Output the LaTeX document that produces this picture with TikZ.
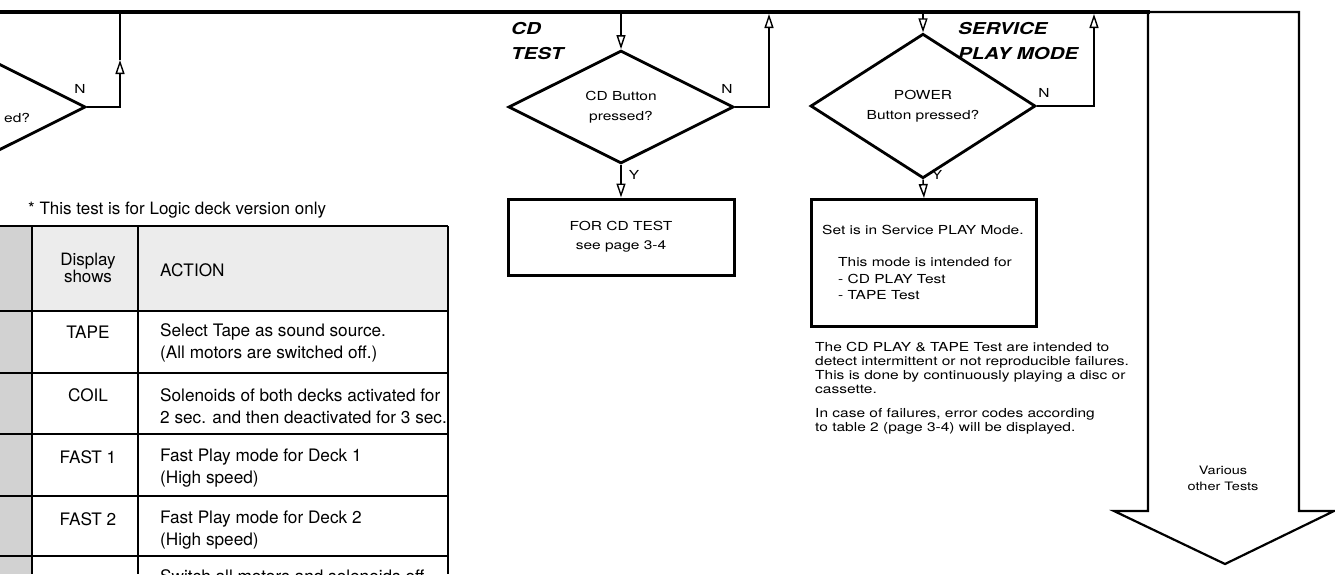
\documentclass[tikz,border=0pt]{standalone}
\usepackage{tikz}
\usetikzlibrary{arrows.meta,shapes.geometric}
\usepackage{fontspec}
\setmainfont{TeX Gyre Heros}
\newfontfamily\chartfont[FakeStretch=1.25]{TeX Gyre Heros}

\begin{document}
\begin{tikzpicture}[x=1pt,y=-1pt,
  bus/.style={line width=4.5pt},
  conn/.style={line width=1.5pt},
  flow/.style={conn, -{Triangle[open,length=14pt,width=9pt,line width=1.4pt]}},
  decision/.style={diamond, draw, line width=2.8pt, minimum width=225pt,
    minimum height=113pt, inner sep=0pt, align=center,
    font=\chartfont\fontsize{12.4}{20}\selectfont},
  chartbox/.style={draw, line width=3pt, inner sep=0pt, align=center,
    font=\chartfont\fontsize{12.4}{19}\selectfont},
  chart/.style={inner sep=0pt, font=\chartfont\fontsize{12.4}{15}\selectfont},
  title/.style={inner sep=0pt, anchor=west, align=left,
    font=\chartfont\bfseries\itshape\fontsize{16.4}{25}\selectfont},
  tabline/.style={line width=1.5pt},
  tabthick/.style={line width=2.2pt},
  tabtxt/.style={inner sep=0pt, align=center, font=\fontsize{17.2}{22}\selectfont},
  acttxt/.style={tabtxt, anchor=west, align=left}
  ]
  \useasboundingbox (0,0) rectangle (1335,574);

  % bus and the big arrow
  \draw[line width=2.2pt] (1148,12) -- (1299,12) -- (1299,511) -- (1334,511)
    -- (1225,564) -- (1114,511) -- (1148,511) -- cycle;
  \draw[bus] (0,12) -- (1150,12);
  \node[chart, align=center, font=\chartfont\fontsize{11.6}{16}\selectfont]
    (various) at (1223,478) {Various\\other Tests};

  % left decision, cut by the page edge
  \begin{scope}
    \clip (0,0) rectangle (1335,574);
    \node[decision] (ldec) at (-27,107) {};
    \node[acttxt] (act5) at (160,576) {Switch all motors and solenoids off};
  \end{scope}
  \node[chart, anchor=west] (ledtxt) at (4,118) {ed?};
  \node[chart] (ln) at (80,89) {N};
  \coordinate (lup) at (120,60);
  \coordinate (lbus) at (120,14);
  \draw[flow] (ldec.east) -| (lup);
  \draw[conn] (lup) -- (lbus);

  % CD test
  \node[title] (cdtitle) at (511,41) {CD\\TEST};
  \coordinate (cdin) at (621,14);
  \coordinate (cdret) at (769,14);
  \node[decision] (cddec) at (621,107) {CD Button\\pressed?};
  \node[chartbox, minimum width=226pt, minimum height=76pt]
    (cdbox) at (621,237) {FOR CD TEST\\see page 3-4};
  \draw[flow] (cdin) -- (cddec.north);
  \draw[flow] (cddec.south) -- (cdbox.north);
  \node[chart] (cdy) at (634,175) {Y};
  \draw[flow] (cddec.east) -| (cdret);
  \node[chart] (cdn) at (727,89) {N};

  % service play mode
  \node[title] (playtitle) at (958,41) {SERVICE\\PLAY MODE};
  \coordinate (playin) at (923,14);
  \coordinate (playret) at (1094,14);
  \node[decision] (playdec) at (923,106) {POWER\\Button pressed?};
  \node[chartbox, minimum width=225pt, minimum height=127pt]
    (playbox) at (924,263) {};
  \node[chart, anchor=north west, align=left,
    font=\chartfont\fontsize{12.4}{16.5}\selectfont] (playtxt) at (822,225)
    {Set is in Service PLAY Mode.\\[16pt]
     \hspace*{16pt}This mode is intended for\\
     \hspace*{16pt}- CD PLAY Test\\
     \hspace*{16pt}- TAPE Test};
  \draw[flow] (playin) -- (playdec.north);
  \draw[flow] (playdec.south) -- (playbox.north);
  \node[chart] (playy) at (937,175) {Y};
  \draw[flow] (playdec.east) -| (playret);
  \node[chart] (playn) at (1044,93) {N};
  \node[chart, anchor=north west, align=left,
    font=\chartfont\fontsize{12.4}{14}\selectfont] (note) at (815,342)
    {The CD PLAY \& TAPE Test are intended to\\
     detect intermittent or not reproducible failures.\\
     This is done by continuously playing a disc or\\
     cassette.\\[10pt]
     In case of failures, error codes according\\
     to table 2 (page 3-4) will be displayed.};

  % table of the logic deck test
  \node[acttxt, font=\fontsize{17}{20}\selectfont] (remark) at (28,210)
    {* This test is for Logic deck version only};
  \fill[gray!15] (32,226) rectangle (448,311);
  \fill[gray!35] (0,226) rectangle (32,574);
  \draw[tabthick] (0,226) -- (448,226);
  \draw[tabthick] (32,226) -- (32,574);
  \draw[tabthick] (138,226) -- (138,574);
  \draw[tabthick] (448,226) -- (448,574);
  \draw[tabline] (0,311) -- (448,311);
  \draw[tabline] (0,373) -- (448,373);
  \draw[tabline] (0,434) -- (448,434);
  \draw[tabline] (0,496) -- (448,496);
  \draw[tabline] (0,556) -- (448,556);
  \node[tabtxt, font=\fontsize{17}{17}\selectfont] (hdisp) at (88,268) {Display\\shows};
  \node[acttxt] (hact) at (160,270) {ACTION};
  \node[tabtxt] (disp1) at (88,332) {TAPE};
  \node[acttxt] (act1) at (160,343) {Select Tape as sound source.\\(All motors are switched off.)};
  \node[tabtxt] (disp2) at (88,395) {COIL};
  \node[acttxt] (act2) at (160,406) {Solenoids of both decks activated for\\2 sec. and then deactivated for 3 sec.};
  \node[tabtxt] (disp3) at (88,457) {FAST 1};
  \node[acttxt] (act3) at (160,468) {Fast Play mode for Deck 1\\(High speed)};
  \node[tabtxt] (disp4) at (88,519) {FAST 2};
  \node[acttxt] (act4) at (160,530) {Fast Play mode for Deck 2\\(High speed)};
\end{tikzpicture}
\end{document}
